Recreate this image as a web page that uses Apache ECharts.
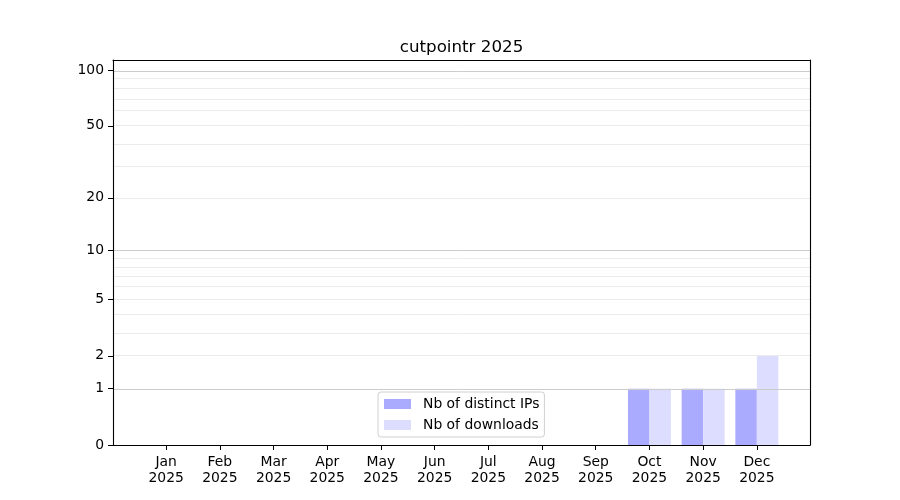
<!DOCTYPE html>
<html>
<head>
<meta charset="utf-8">
<script src="https://cdn.jsdelivr.net/npm/echarts@6/dist/echarts.min.js"></script>
<style>html,body{margin:0;padding:0;background:#fff;}#c{width:900px;height:500px;}</style>
</head>
<body>
<div id="c"></div>
<script>
const titleText = 'cutpointr 2025';
const months = ['Jan','Feb','Mar','Apr','May','Jun','Jul','Aug','Sep','Oct','Nov','Dec'];
const yearLabel = '2025';
const distinctIPs = [0,0,0,0,0,0,0,0,0,1,1,1];
const downloads   = [0,0,0,0,0,0,0,0,0,1,1,2];
const yTickLabels = [0,1,2,5,10,20,50,100];
const majorGrid = [1,10,100];
const minorGrid = [2,3,4,5,6,7,8,9,20,30,40,50,60,70,80,90];
const seriesNames = ['Nb of distinct IPs','Nb of downloads'];
const seriesColors = ['#aaaaff','#ddddff'];

const f = v => Math.log10(1 + v);
const FONT = 'DejaVu Sans';
const monthPos = months.map((m, i) => i + 1);

function barRenderer(offset, color) {
  return function (params, api) {
    const x = api.value(0), v = api.value(1);
    const p0 = api.coord([x + offset, 0]);
    const p1 = api.coord([x + offset + 0.4, v]);
    return {
      type: 'rect',
      shape: { x: p0[0], y: p1[1], width: p1[0] - p0[0], height: p0[1] - p1[1] },
      style: { fill: color }
    };
  };
}

const gridLines = []
  .concat(minorGrid.map(v => ({ yAxis: f(v), lineStyle: { color: '#ebebeb' } })))
  .concat(majorGrid.map(v => ({ yAxis: f(v), lineStyle: { color: '#cccccc' } })));

const chart = echarts.init(document.getElementById('c'), null, { renderer: 'canvas' });
chart.setOption({
  animation: false,
  backgroundColor: '#ffffff',
  textStyle: { fontFamily: FONT },
  title: {
    text: titleText,
    left: 456.5,
    textAlign: 'center',
    top: 34,
    textStyle: { fontFamily: FONT, fontSize: 16.7, fontWeight: 'normal', color: '#000' }
  },
  legend: {
    orient: 'vertical',
    left: 378,
    top: 392,
    icon: 'rect',
    itemWidth: 27,
    itemHeight: 10,
    itemGap: 7,
    padding: [5, 5, 5, 6],
    backgroundColor: 'rgba(255,255,255,0.8)',
    borderColor: '#d0d0d0',
    borderWidth: 1,
    borderRadius: 3,
    textStyle: { fontFamily: FONT, fontSize: 13.9, color: '#000', padding: [0, 0, 0, 7] },
    data: seriesNames
  },
  grid: { left: 113, right: 90, top: 60, bottom: 55, containLabel: false },
  xAxis: [{
    type: 'value',
    min: 0.01,
    max: 12.99,
    z: 10,
    axisLine: { show: true, onZero: false, lineStyle: { color: '#000', width: 1.1 } },
    axisTick: { show: true, customValues: monthPos, length: 5, lineStyle: { color: '#000', width: 1 } },
    axisLabel: {
      customValues: monthPos,
      formatter: v => months[Math.round(v) - 1] + '\n' + yearLabel,
      fontFamily: FONT, fontSize: 13.9, color: '#000', lineHeight: 16, margin: 9
    },
    splitLine: { show: false }
  }, {
    type: 'value', position: 'top', min: 0.01, max: 12.99, z: 10,
    axisLine: { show: true, onZero: false, lineStyle: { color: '#000', width: 1.1 } },
    axisTick: { show: false }, axisLabel: { show: false }, splitLine: { show: false }
  }],
  yAxis: [{
    type: 'value',
    min: 0,
    max: 2.0594,
    z: 10,
    axisLine: { show: true, onZero: false, lineStyle: { color: '#000', width: 1.1 } },
    axisTick: { show: true, customValues: yTickLabels.map(f), length: 5, lineStyle: { color: '#000', width: 1 } },
    axisLabel: {
      customValues: yTickLabels.map(f),
      formatter: v => String(Math.round(Math.pow(10, v) - 1)),
      fontFamily: FONT, fontSize: 13.9, color: '#000', margin: 9
    },
    splitLine: { show: false }
  }, {
    type: 'value', position: 'right', min: 0, max: 2.0594, z: 10,
    axisLine: { show: true, onZero: false, lineStyle: { color: '#000', width: 1.1 } },
    axisTick: { show: false }, axisLabel: { show: false }, splitLine: { show: false }
  }],
  series: [{
    name: seriesNames[0],
    type: 'custom',
    itemStyle: { color: seriesColors[0] },
    renderItem: barRenderer(-0.4, seriesColors[0]),
    encode: { x: 0, y: 1 },
    data: distinctIPs.map((v, i) => [monthPos[i], f(v)]),
    z: 2
  }, {
    name: seriesNames[1],
    type: 'custom',
    itemStyle: { color: seriesColors[1] },
    renderItem: barRenderer(0, seriesColors[1]),
    encode: { x: 0, y: 1 },
    data: downloads.map((v, i) => [monthPos[i], f(v)]),
    z: 2,
    markLine: {
      silent: true,
      symbol: 'none',
      label: { show: false },
      lineStyle: { type: 'solid', width: 1 },
      z: 3,
      data: gridLines
    }
  }]
});
</script>
</body>
</html>
